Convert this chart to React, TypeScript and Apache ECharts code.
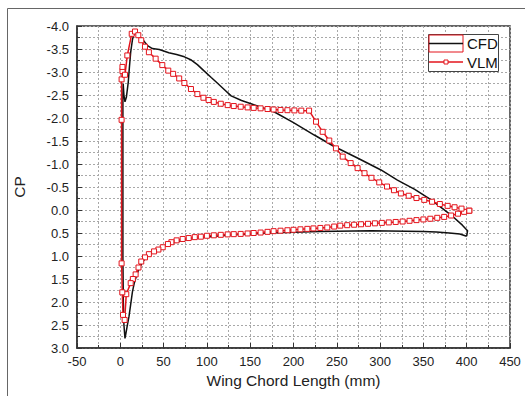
import React, { useEffect, useRef } from "react";
import * as echarts from "echarts";

// CFD: lower surface (trailing edge -> leading edge), then upper surface (leading edge -> trailing edge)
const cfdX = [400, 392, 380, 365, 350, 330, 310, 290, 270, 250, 230, 210, 190, 170, 150, 130, 110, 95, 85, 75, 65, 55, 45, 35, 30, 25, 20, 16, 14, 12, 10, 8, 6.5, 5.4, 4.2, 3.5, 3.0, 3.0, 3.0, 3.0, 3.3, 4.2, 5.4, 7, 9.2, 10.5, 12, 14, 15.8, 17, 19, 22, 25.4, 31, 37, 45, 56, 65, 74, 82, 89, 97, 105, 112, 120, 128, 140, 151, 165, 178, 200, 224, 247, 275, 301, 320, 340, 359, 382, 395, 401, 400];
const cfdCp = [0.57, 0.52, 0.5, 0.48, 0.47, 0.46, 0.455, 0.45, 0.455, 0.46, 0.47, 0.48, 0.49, 0.5, 0.52, 0.54, 0.57, 0.6, 0.62, 0.65, 0.69, 0.75, 0.83, 0.94, 1.03, 1.15, 1.35, 1.6, 1.78, 2.05, 2.32, 2.52, 2.68, 2.79, 2.5, 2.0, 1.0, 0, -1.5, -2.5, -2.75, -2.5, -2.35, -2.45, -2.78, -3.1, -3.43, -3.7, -3.83, -3.87, -3.82, -3.77, -3.72, -3.58, -3.51, -3.49, -3.42, -3.38, -3.33, -3.26, -3.16, -3.02, -2.88, -2.76, -2.62, -2.48, -2.38, -2.31, -2.22, -2.13, -1.9, -1.63, -1.38, -1.12, -0.87, -0.65, -0.45, -0.22, 0.11, 0.33, 0.45, 0.57];

// VLM: lower surface (trailing edge -> leading edge), then upper surface (leading edge -> trailing edge)
const vlmX = [403, 397, 390, 382, 374, 366, 358, 350, 342, 334, 326, 318, 310, 302, 294, 286, 278, 270, 262, 254, 247, 239, 231, 223, 216, 208, 200, 193, 185, 177, 170, 162, 154, 147, 139, 131, 124, 116, 108, 100, 93, 86, 79, 72, 65, 59, 55, 49, 44, 39, 33, 28.5, 24.2, 21, 17.7, 14.5, 12, 6.9, 5, 3.1, 2.3, 1.5,
  1.5, 1.5, 2.5, 2.5, 5.4, 8.1, 13.2, 17, 20.8, 24.2, 28.5, 33, 40.8, 48.5, 55.4, 61, 68, 74, 81.6, 89, 96, 102, 108, 116, 124, 131, 139, 147, 154, 162, 170, 177, 185, 193, 201, 209, 218, 226, 233.7, 241.3, 249, 256.8, 266, 274, 282, 290, 299, 308, 316, 324, 333, 342, 351, 360, 369, 378, 386, 394, 403];
const vlmCp = [0.015, 0.04, 0.08, 0.12, 0.15, 0.17, 0.19, 0.205, 0.22, 0.235, 0.25, 0.26, 0.27, 0.28, 0.29, 0.3, 0.31, 0.32, 0.33, 0.34, 0.36, 0.38, 0.39, 0.4, 0.41, 0.42, 0.43, 0.44, 0.45, 0.46, 0.475, 0.49, 0.5, 0.51, 0.52, 0.525, 0.53, 0.54, 0.55, 0.56, 0.58, 0.59, 0.61, 0.63, 0.66, 0.7, 0.74, 0.81, 0.86, 0.9, 0.96, 1.03, 1.12, 1.25, 1.4, 1.5, 1.59, 1.83, 2.39, 2.28, 1.79, 1.16,
  -1.96, -2.84, -3.02, -3.11, -2.94, -3.36, -3.83, -3.88, -3.8, -3.69, -3.55, -3.43, -3.29, -3.15, -3.03, -2.96, -2.86, -2.76, -2.63, -2.52, -2.44, -2.39, -2.35, -2.31, -2.28, -2.26, -2.245, -2.23, -2.22, -2.21, -2.195, -2.185, -2.175, -2.17, -2.165, -2.16, -2.16, -1.92, -1.7, -1.51, -1.34, -1.16, -1.02, -0.91, -0.8, -0.7, -0.6, -0.51, -0.43, -0.36, -0.31, -0.26, -0.22, -0.18, -0.13, -0.09, -0.06, -0.03, 0.015];

const seriesNames = ["CFD", "VLM"];
const xAxisTitle = "Wing Chord Length (mm)";
const yAxisTitle = "CP";

const RED = "#e3141c";
const FONT = "Liberation Sans, Arial, sans-serif";

export default function App() {
  const ref = useRef<HTMLDivElement>(null);
  useEffect(() => {
    document.body.style.margin = "0";
    const chart = echarts.init(ref.current!, null, { renderer: "svg" });
    const gridLine = { show: true, lineStyle: { color: "#a8a8a8", type: [2, 2], width: 1 } };
    chart.setOption({
      animation: false,
      backgroundColor: "#ffffff",
      textStyle: { fontFamily: FONT },
      grid: { left: 77, right: 15, top: 26, bottom: 48, show: true, borderColor: "#333", borderWidth: 1.5, backgroundColor: "transparent" },
      xAxis: {
        type: "value",
        min: -50,
        max: 450,
        interval: 50,
        name: xAxisTitle,
        nameLocation: "middle",
        nameGap: 24,
        nameTextStyle: { fontSize: 15.5, color: "#222", fontFamily: FONT },
        axisLine: { show: true, onZero: false, lineStyle: { color: "#333", width: 1.5 } },
        axisTick: { show: true, inside: true, length: 5, lineStyle: { color: "#333" } },
        minorTick: { show: true, splitNumber: 2, length: 3, lineStyle: { color: "#333" } },
        axisLabel: { fontSize: 13, color: "#222", margin: 7, fontFamily: FONT },
        splitLine: gridLine,
        minorSplitLine: gridLine,
      },
      yAxis: {
        type: "value",
        inverse: true,
        min: -4,
        max: 3,
        interval: 0.5,
        name: yAxisTitle,
        nameLocation: "middle",
        nameGap: 50,
        nameRotate: 90,
        nameTextStyle: { fontSize: 15.5, color: "#222", fontFamily: FONT },
        axisLine: { show: true, onZero: false, lineStyle: { color: "#333", width: 1.5 } },
        axisTick: { show: true, inside: true, length: 5, lineStyle: { color: "#333" } },
        minorTick: { show: true, splitNumber: 2, length: 3, lineStyle: { color: "#333" } },
        axisLabel: { fontSize: 13, color: "#222", margin: 8, fontFamily: FONT, formatter: (v: number) => v.toFixed(1) },
        splitLine: gridLine,
        minorSplitLine: gridLine,
      },
      series: [
        {
          name: seriesNames[0],
          type: "line",
          data: cfdX.map((x, i) => [x, cfdCp[i]]),
          showSymbol: false,
          symbol: "none",
          lineStyle: { color: "#111", width: 1.5 },
          itemStyle: { color: "#111" },
          z: 2,
        },
        {
          name: seriesNames[1],
          type: "line",
          data: vlmX.map((x, i) => [x, vlmCp[i]]),
          symbol: "rect",
          symbolSize: 5,
          showAllSymbol: true,
          lineStyle: { color: RED, width: 1.5 },
          itemStyle: { color: "#fff", borderColor: RED, borderWidth: 1 },
          z: 3,
        },
      ],
      graphic: [
        { type: "line", shape: { x1: 7.5, y1: 8.5, x2: 525, y2: 8.5 }, style: { stroke: "#666", lineWidth: 1 } },
        { type: "line", shape: { x1: 7.5, y1: 8.5, x2: 7.5, y2: 396 }, style: { stroke: "#666", lineWidth: 1 } },
        { type: "rect", shape: { x: 428.5, y: 34.5, width: 70, height: 37 }, style: { fill: "#fff", stroke: "#444", lineWidth: 1 }, z: 10 },
        { type: "rect", shape: { x: 429, y: 35, width: 34, height: 17 }, style: { fill: "none", stroke: RED, lineWidth: 1 }, z: 11 },
        { type: "line", shape: { x1: 429, y1: 43.5, x2: 463, y2: 43.5 }, style: { stroke: "#111", lineWidth: 1.5 }, z: 11 },
        { type: "text", x: 467, y: 43.5, style: { text: seriesNames[0], fontSize: 15, fill: "#111", fontFamily: FONT, verticalAlign: "middle" }, z: 11 },
        { type: "line", shape: { x1: 429, y1: 62, x2: 463, y2: 62 }, style: { stroke: RED, lineWidth: 1.5 }, z: 11 },
        { type: "rect", shape: { x: 444, y: 60, width: 4, height: 4 }, style: { fill: "#fff", stroke: RED, lineWidth: 1 }, z: 12 },
        { type: "text", x: 467, y: 62, style: { text: seriesNames[1], fontSize: 15, fill: "#111", fontFamily: FONT, verticalAlign: "middle" }, z: 11 },
      ],
    });
    return () => chart.dispose();
  }, []);
  return <div ref={ref} style={{ width: 525, height: 396 }} />;
}
